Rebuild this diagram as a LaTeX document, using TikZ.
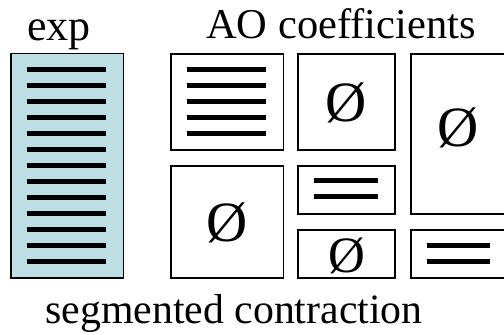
\documentclass[tikz,border=0pt]{standalone}
\usepackage{fontspec}
\setmainfont{Liberation Serif}
\definecolor{expfill}{RGB}{189,224,228}
\begin{document}
\begin{tikzpicture}[x=1pt,y=-1pt,
  blk/.style={draw=black,line width=1.5pt,rectangle,inner sep=0pt,anchor=north west},
  bar/.style={line width=5pt},
  lbl/.style={anchor=base,inner sep=0pt,font=\fontsize{42.5}{50}\selectfont},
  empty/.style={inner sep=0pt,font=\fontsize{57}{64}\selectfont},
  emptysm/.style={inner sep=0pt,font=\fontsize{51}{58}\selectfont}]
\useasboundingbox (0,0) rectangle (504,335);
\clip (0,0) rectangle (504,335);
% labels
\node[lbl,font=\fontsize{44}{50}\selectfont] (lexp) at (59,40) {exp};
\node[lbl] (lao) at (341,38) {AO coefficients};
\node[lbl,font=\fontsize{41.8}{50}\selectfont] (lseg) at (234,323) {segmented contraction};
% exp box
\node[blk,fill=expfill,minimum width=112.7pt,minimum height=224.6pt] (exp) at (10,52.7) {};
\foreach \k in {0,...,12}{\draw[bar] ([xshift=16.7pt,yshift=-16.3pt-\k*16pt]exp.north west) -- ++(79.3,0);}
% box A
\node[blk,minimum width=112.7pt,minimum height=95.7pt] (A) at (170,53.3) {};
\foreach \k in {0,...,4}{\draw[bar] ([xshift=16.7pt,yshift=-16pt-\k*16pt]A.north west) -- ++(79.3,0);}
% box B
\node[blk,minimum width=97pt,minimum height=95.7pt] (B) at (297.3,53.3) {};
\node[empty] (Bo) at ([yshift=-1pt]B.center) {Ø};
% box C
\node[blk,minimum width=112.7pt,minimum height=112.3pt] (C) at (170,165) {};
\node[empty] (Co) at ([yshift=-1pt]C.center) {Ø};
% box D
\node[blk,minimum width=97pt,minimum height=48.3pt] (D) at (297.3,165) {};
\draw[bar] ([xshift=16.7pt,yshift=-15.7pt]D.north west) -- ++(64.3,0);
\draw[bar] ([xshift=16.7pt,yshift=-31.7pt]D.north west) -- ++(64.3,0);
% box E
\node[blk,minimum width=97pt,minimum height=48pt] (E) at (297.3,229.3) {};
\node[emptysm] (Eo) at ([yshift=-2pt]E.center) {Ø};
% box F (cut off at right)
\node[blk,minimum width=98pt,minimum height=160pt] (F) at (410,53.3) {};
\node[empty] (Fo) at ([yshift=6pt,xshift=-2pt]F.center) {Ø};
% box G (cut off at right)
\node[blk,minimum width=98pt,minimum height=48pt] (G) at (410,229.3) {};
\draw[bar] ([xshift=16.7pt,yshift=-15.7pt]G.north west) -- ++(63.3,0);
\draw[bar] ([xshift=16.7pt,yshift=-31.7pt]G.north west) -- ++(63.3,0);
\end{tikzpicture}
\end{document}
